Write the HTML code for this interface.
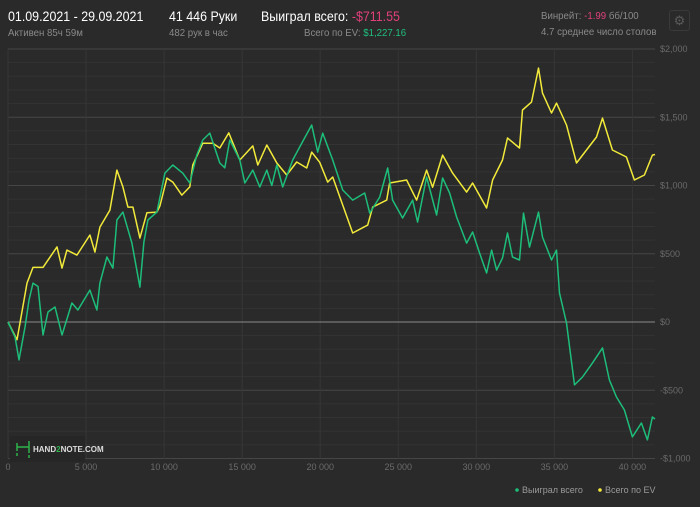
<!DOCTYPE html>
<html><head><meta charset="utf-8"><style>
body{margin:0;background:#2a2a2a;width:700px;height:507px;overflow:hidden;font-family:"Liberation Sans",sans-serif}
.t{position:absolute;white-space:nowrap;transform-origin:0 0;transform:scaleX(0.92)}
</style></head><body>
<div style="position:relative;width:700px;height:507px">
<div class="t" style="left:8px;top:9px;color:#fff;font-size:13.5px">01.09.2021 - 29.09.2021</div>
<div class="t" style="left:8px;top:27px;color:#8a8a8a;font-size:10.5px">Активен 85ч 59м</div>
<div class="t" style="left:169px;top:9px;color:#fff;font-size:13.5px">41 446 Руки</div>
<div class="t" style="left:169px;top:27px;color:#8a8a8a;font-size:10.5px">482 рук в час</div>
<div class="t" style="left:261px;top:9px;color:#fff;font-size:13.5px">Выиграл всего: <span style="color:#e0407a">-$711.55</span></div>
<div class="t" style="left:304px;top:27px;color:#8a8a8a;font-size:10.5px">Всего по EV: <span style="color:#1fbf7e">$1,227.16</span></div>
<div class="t" style="left:541px;top:10px;color:#8a8a8a;font-size:10.5px">Винрейт: <span style="color:#e0407a">-1.99</span> бб/100</div>
<div class="t" style="left:541px;top:26px;color:#8a8a8a;font-size:10.5px">4.7 среднее число столов</div>
<div style="position:absolute;left:669px;top:10px;width:19px;height:19px;border:1px solid #3a3a3a;border-radius:3px;color:#5a5a5a;font-size:13px;text-align:center;line-height:19px">⚙</div>
<svg id="chart" width="700" height="507" style="position:absolute;left:0;top:0"></svg>
</div>
<script>
const ticksX=[0,5000,10000,15000,20000,25000,30000,35000,40000];
const ticksY=[2000,1500,1000,500,0,-500,-1000];
const tickLabelsY=['$2,000','$1,500','$1,000','$500','$0','-$500','-$1,000'];
const wonHands=[0,448,704,1088,1344,1600,1920,2240,2560,3008,
3456,4096,4480,5248,5696,5888,6336,6720,6976,7360,
7936,8448,8704,8960,9536,10048,10560,11200,11648,12096,
12480,12928,13568,13888,14208,14848,15168,15680,16128,16576,
16896,17216,17600,18240,18688,19456,19840,20160,20800,21440,
22080,22848,23168,23808,24320,24640,25280,25920,26240,26816,
27456,27840,28288,28736,29376,29760,30208,30656,30976,31296,
31680,32000,32320,32768,33024,33408,33984,34240,34816,35136,
35328,35776,36288,36800,37440,38080,38528,38976,39488,40000,
40576,40960,41280,41446];
const wonValues=[0,-110,-278,-37,160,285,260,-95,73,110,
-95,139,88,234,88,285,476,395,747,805,
578,256,586,747,805,1091,1150,1090,1018,1223,
1333,1384,1165,1130,1333,1187,1018,1113,989,1113,
1000,1150,989,1187,1282,1443,1245,1384,1187,967,
893,945,798,915,1128,893,762,893,732,1062,
784,1055,945,769,578,659,505,359,527,380,
469,652,476,454,798,549,805,622,454,527,
212,-7,-461,-403,-300,-190,-425,-549,-645,-842,
-740,-864,-696,-711];
const evHands=[0,576,1024,1216,1600,2240,3136,3456,3776,4416,
5248,5568,5888,6528,6976,7360,7680,8000,8448,8896,
9536,9728,10176,10560,11136,11648,11840,12480,13120,13568,
14144,14848,15680,16000,16576,17216,17856,18496,19136,19456,
19968,20480,20800,22080,23040,23360,24256,24448,25536,26176,
26816,27200,27840,28480,29376,29760,30656,31040,31680,32000,
32768,32960,33536,33984,34240,34816,35136,35776,36416,37056,
37696,38080,38720,39616,40128,40768,41280,41446];
const evValues=[0,-130,160,285,400,400,550,395,527,490,
637,512,695,820,1113,990,842,842,615,800,
805,850,1054,1025,930,990,1150,1310,1310,1275,
1385,1187,1290,1150,1297,1165,1077,1172,1128,1245,
1170,1025,1062,652,710,842,893,1018,1040,893,
1113,987,1223,1091,952,1018,835,1040,1187,1348,
1275,1553,1611,1860,1677,1531,1604,1443,1165,1260,
1355,1494,1260,1209,1040,1077,1223,1227];
const X0=8,X1=655,XMAX=41446,Y0=322,PPD=273/2000;
function sx(h){return X0+h*(X1-X0)/XMAX;}
function sy(v){return Y0-v*PPD;}
const svg=document.getElementById('chart');
const NS='http://www.w3.org/2000/svg';
function mk(t,a){const e=document.createElementNS(NS,t);for(const k in a)e.setAttribute(k,a[k]);svg.appendChild(e);return e;}
for(let v=-1000;v<=2000;v+=100){
  const l=mk('line',{x1:X0,x2:X1,y1:sy(v),y2:sy(v),stroke:v%500===0?'#464646':'#333333','stroke-width':1});
  
  
}
ticksX.forEach(t=>{
  const l=mk('line',{x1:sx(t),x2:sx(t),y1:sy(2000),y2:sy(-1000),stroke:'#363636'});
  
  
  const tx=mk('text',{x:sx(t),y:470,fill:'#6a6a6a','font-size':9,'text-anchor':'middle','font-family':'Liberation Sans'});
  tx.textContent=t===0?'0':(t/1000)+' 000';
  
  
});
ticksY.forEach((t,i)=>{
  const tx=mk('text',{x:660,y:sy(t)+3,fill:'#6a6a6a','font-size':9,'font-family':'Liberation Sans'});
  tx.textContent=tickLabelsY[i];
  
  
});
const zl=mk('line',{x1:X0,x2:X1,y1:sy(0),y2:sy(0),stroke:'#8a8a8a','stroke-width':1});


const lg=mk('rect',{x:10,y:436,width:75,height:26,fill:'#262626'});


mk('path',{d:'M17 443v8M17 447h12M29 441v12M17 453v3M29 455v3',stroke:'#2db34a','stroke-width':1.5,fill:'none'});
const lt=mk('text',{x:33,y:452,fill:'#ddd','font-size':8,'font-weight':'bold','font-family':'Liberation Sans'});
lt.innerHTML='HAND<tspan fill="#2db34a">2</tspan>NOTE.COM';


function line(hs,vs,c,name){
  const p=mk('polyline',{points:hs.map((h,i)=>sx(h).toFixed(1)+','+sy(vs[i]).toFixed(1)).join(' '),fill:'none',stroke:c,'stroke-width':1.5,'stroke-linejoin':'round'});
  
  
}
line(evHands,evValues,'#f2ea3a','ev-line');
line(wonHands,wonValues,'#1dbd7a','won-line');
const c1=mk('circle',{cx:517,cy:490,r:1.8,fill:'#1dbd7a'});


const l1=mk('text',{x:522,y:493,fill:'#9a9a9a','font-size':9,'font-family':'Liberation Sans'});
l1.textContent='Выиграл всего';


const c2=mk('circle',{cx:600,cy:490,r:1.8,fill:'#f2ea3a'});


const l2=mk('text',{x:605,y:493,fill:'#9a9a9a','font-size':9,'font-family':'Liberation Sans'});
l2.textContent='Всего по EV';


</script>
</body></html>
